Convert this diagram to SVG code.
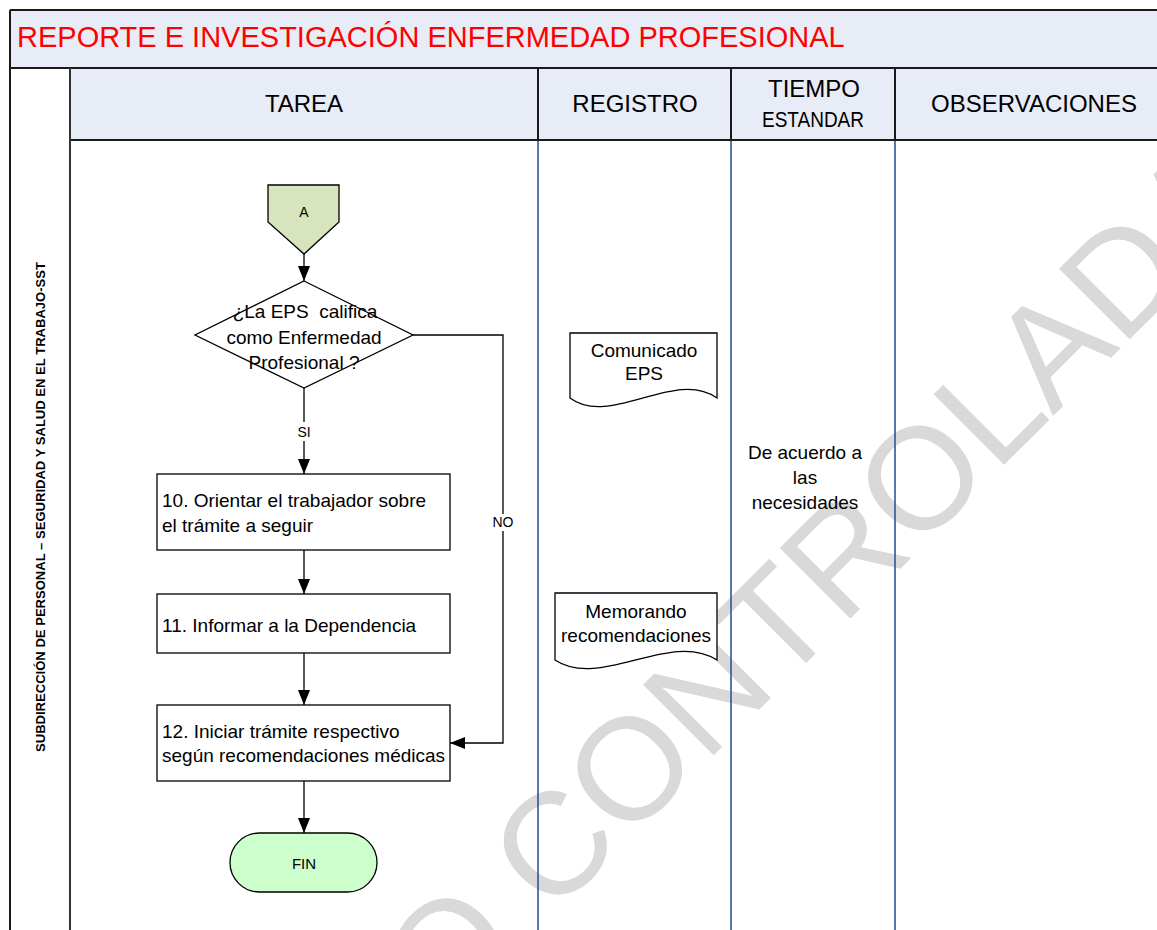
<svg xmlns="http://www.w3.org/2000/svg" width="1157" height="930" viewBox="0 0 1157 930">
<style>
  text { font-family: "Liberation Sans", Arial, sans-serif; fill: #000; }
  .hdr { font-size: 24px; text-anchor: middle; }
  .body { font-size: 19px; }
  .mid { text-anchor: middle; }
  .lbl { font-size: 14px; text-anchor: middle; }
  .shape { stroke: #000; stroke-width: 1.3; }
  .conn { fill: none; stroke: #000; stroke-width: 1.3; }
  .frame { stroke: #1a1a1a; stroke-width: 2; fill: none; }
  .blue { stroke: #2F5597; stroke-width: 1.6; fill: none; }
  .wm { font-size: 145px; fill: #d9d9d9; }
</style>
<defs>
  <marker id="arr" viewBox="0 0 15 12" refX="15" refY="6" markerWidth="15" markerHeight="12" markerUnits="userSpaceOnUse" orient="auto">
    <path d="M0,0 L15,6 L0,12 Z" fill="#000"/>
  </marker>
  <clipPath id="bodyclip"><rect x="11" y="141" width="1146" height="789"/></clipPath>
</defs>

<rect x="0" y="0" width="1157" height="930" fill="#fff"/>

<!-- backgrounds -->
<g id="title-band">
  <rect x="10" y="10" width="1147" height="58" fill="#E7ECF6"/>
  <text x="17" y="47" font-size="29" style="fill:#FF0000">REPORTE E INVESTIGACIÓN ENFERMEDAD PROFESIONAL</text>
</g>
<g id="header-row">
  <rect x="70" y="68" width="1087" height="72" fill="#E7ECF6"/>
  <text class="hdr" x="304" y="112">TAREA</text>
  <text class="hdr" x="635" y="112">REGISTRO</text>
  <text class="hdr" x="814" y="97">TIEMPO</text>
  <text x="813" y="127" font-size="22" text-anchor="middle" textLength="102" lengthAdjust="spacingAndGlyphs">ESTANDAR</text>
  <text class="hdr" x="1034" y="112">OBSERVACIONES</text>
</g>

<!-- watermark -->
<g id="watermark" clip-path="url(#bodyclip)">
  <text class="wm" transform="translate(557,912) rotate(-45)" x="-749" y="0">COPIA NO CONTROLADA</text>
</g>

<!-- table lines -->
<g id="grid">
  <line class="frame" x1="10" y1="10" x2="1157" y2="10"/>
  <line class="frame" x1="10" y1="10" x2="10" y2="930"/>
  <line class="frame" x1="10" y1="68" x2="1157" y2="68"/>
  <line class="frame" x1="70" y1="140" x2="1157" y2="140"/>
  <line class="frame" x1="70" y1="68" x2="70" y2="930" style="stroke:#333"/>
  <line class="frame" x1="538" y1="68" x2="538" y2="140"/>
  <line class="frame" x1="731" y1="68" x2="731" y2="140"/>
  <line class="frame" x1="895" y1="68" x2="895" y2="140"/>
  <line class="blue" x1="538" y1="141" x2="538" y2="930"/>
  <line class="blue" x1="731" y1="141" x2="731" y2="930"/>
  <line class="blue" x1="895" y1="141" x2="895" y2="930"/>
</g>

<g id="lane-label">
  <text transform="translate(45,507) rotate(-90)" text-anchor="middle" font-size="13" font-weight="bold" textLength="490" lengthAdjust="spacingAndGlyphs">SUBDIRECCIÓN DE PERSONAL – SEGURIDAD Y SALUD EN EL TRABAJO-SST</text>
</g>

<!-- connectors -->
<g id="connectors">
  <path class="conn" d="M304,254 L304,281" marker-end="url(#arr)"/>
  <path class="conn" d="M304,388 L304,474" marker-end="url(#arr)"/>
  <path class="conn" d="M304,550 L304,594" marker-end="url(#arr)"/>
  <path class="conn" d="M304,653 L304,705" marker-end="url(#arr)"/>
  <path class="conn" d="M304,781 L304,833" marker-end="url(#arr)"/>
  <path class="conn" d="M413,335 H503 V743 H450" marker-end="url(#arr)"/>
  <rect x="294" y="422" width="20" height="19" fill="#fff"/>
  <text class="lbl" x="304" y="437">SI</text>
  <rect x="491" y="514" width="24" height="17" fill="#fff"/>
  <text class="lbl" x="503" y="527">NO</text>
</g>

<!-- nodes -->
<g id="node-A">
  <path class="shape" d="M268,185 H339 V222 L304,254 L268,222 Z" fill="#D7E4BD"/>
  <text class="lbl" x="304" y="217">A</text>
</g>

<g id="node-decision">
  <polygon class="shape" points="304,281 413,335 304,388 195,335" fill="#fff" fill-opacity="0"/>
  <text class="body mid" x="305" y="318" xml:space="preserve">¿La EPS  califica</text>
  <text class="body mid" x="304" y="343.5">como Enfermedad</text>
  <text class="body mid" x="304" y="369">Profesional ?</text>
</g>

<g id="node-10">
  <rect class="shape" x="157" y="474" width="293" height="76" fill="#fff"/>
  <text class="body" x="162" y="507">10. Orientar el trabajador sobre</text>
  <text class="body" x="162" y="531.5">el trámite a seguir</text>
</g>

<g id="node-11">
  <rect class="shape" x="157" y="594" width="293" height="59" fill="#fff"/>
  <text class="body" x="162" y="631.5">11. Informar a la Dependencia</text>
</g>

<g id="node-12">
  <rect class="shape" x="157" y="705" width="293" height="76" fill="#fff"/>
  <text class="body" x="162" y="738">12. Iniciar trámite respectivo</text>
  <text class="body" x="162" y="761.5">según recomendaciones médicas</text>
</g>

<g id="node-fin">
  <rect class="shape" x="230" y="833" width="147" height="59" rx="29.5" ry="29.5" fill="#CCFFCC"/>
  <text x="304" y="869" font-size="15" text-anchor="middle">FIN</text>
</g>

<g id="doc-comunicado">
  <path class="shape" d="M570,333 H717 V398 C675,368 610,428 570,398 Z" fill="#fff"/>
  <text class="body mid" x="644" y="356.5">Comunicado</text>
  <text class="body mid" x="644" y="380">EPS</text>
</g>

<g id="doc-memorando">
  <path class="shape" d="M555,593 H717 V660 C670,630 600,690 555,660 Z" fill="#fff"/>
  <text class="body mid" x="636" y="617.5">Memorando</text>
  <text class="body mid" x="636" y="642">recomendaciones</text>
</g>

<g id="tiempo-text">
  <text class="body mid" x="805" y="458.5">De acuerdo a</text>
  <text class="body mid" x="805" y="483.5">las</text>
  <text class="body mid" x="805" y="508.5">necesidades</text>
</g>
</svg>
